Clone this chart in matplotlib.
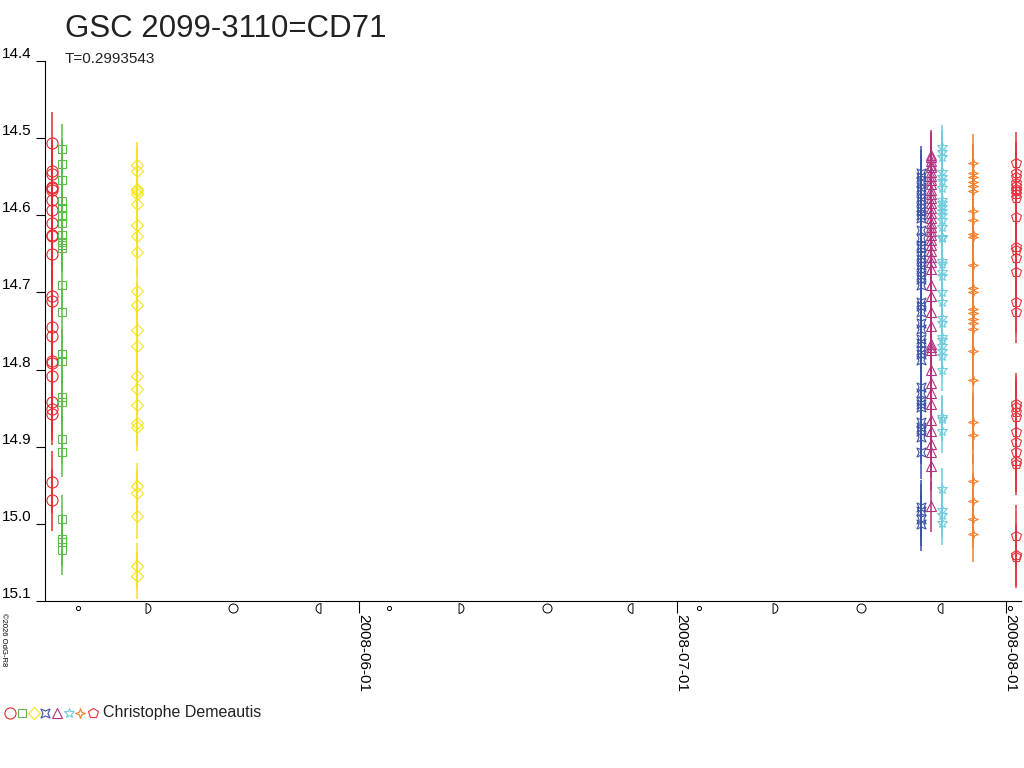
import numpy as np
import matplotlib
matplotlib.use('Agg')
import matplotlib.pyplot as plt
import matplotlib.dates as mdates
from matplotlib.path import Path
from matplotlib.lines import Line2D
from datetime import datetime

plt.rcParams['font.family'] = ['Liberation Sans', 'DejaVu Sans']

title = 'GSC 2099-3110=CD71'
subtitle = 'T=0.2993543'
observer = 'Christophe Demeautis'
credit = '©2026 OdG-R8'

# one observing night per series
night_dates = ['2008-05-03 00:45', '2008-05-04 00:45', '2008-05-11 01:00',
               '2008-07-23 23:00', '2008-07-24 22:20', '2008-07-25 22:20',
               '2008-07-28 21:50', '2008-08-01 21:50']

mag_red_circles = [14.506, 14.542, 14.546, 14.563, 14.565, 14.567, 14.580, 14.593,
                   14.610, 14.625, 14.627, 14.650, 14.705, 14.711, 14.745, 14.757,
                   14.789, 14.791, 14.808, 14.842, 14.851, 14.858, 14.946, 14.969]
mag_green = [14.514, 14.533, 14.554, 14.582, 14.591, 14.599, 14.601, 14.610,
             14.626, 14.634, 14.638, 14.642, 14.691, 14.726, 14.780, 14.789,
             14.836, 14.842, 14.890, 14.907, 14.994, 15.020, 15.023, 15.034]
mag_yellow = [14.535, 14.542, 14.566, 14.568, 14.572, 14.585, 14.613, 14.627,
              14.648, 14.698, 14.716, 14.749, 14.770, 14.808, 14.825, 14.846,
              14.869, 14.875, 14.951, 14.960, 14.990, 15.055, 15.067]
mag_blue = [14.545, 14.550, 14.557, 14.563, 14.569, 14.576, 14.582, 14.589,
            14.595, 14.599, 14.603, 14.619, 14.629, 14.638, 14.642, 14.651,
            14.657, 14.664, 14.670, 14.677, 14.683, 14.690, 14.713, 14.718,
            14.725, 14.739, 14.748, 14.761, 14.765, 14.774, 14.780, 14.787,
            14.823, 14.830, 14.841, 14.845, 14.849, 14.868, 14.874, 14.880,
            14.888, 14.907, 14.978, 14.983, 14.994, 15.000]
mag_purple = [14.522, 14.525, 14.529, 14.535, 14.538, 14.544, 14.549, 14.554,
              14.560, 14.567, 14.572, 14.577, 14.584, 14.590, 14.597, 14.603,
              14.610, 14.615, 14.620, 14.625, 14.632, 14.638, 14.646, 14.654,
              14.660, 14.670, 14.690, 14.705, 14.725, 14.744, 14.767, 14.771,
              14.775, 14.801, 14.817, 14.831, 14.844, 14.866, 14.880, 14.897,
              14.907, 14.925, 14.977]
mag_cyan = [14.511, 14.518, 14.524, 14.544, 14.550, 14.555, 14.564, 14.580,
            14.584, 14.589, 14.594, 14.599, 14.606, 14.615, 14.628, 14.630,
            14.659, 14.663, 14.674, 14.679, 14.699, 14.712, 14.733, 14.739,
            14.758, 14.762, 14.770, 14.776, 14.782, 14.800, 14.861, 14.864,
            14.880, 14.955, 14.982, 14.989, 14.999]
mag_orange = [14.532, 14.545, 14.550, 14.557, 14.562, 14.568, 14.595, 14.606,
              14.624, 14.628, 14.664, 14.694, 14.699, 14.722, 14.727, 14.735,
              14.740, 14.748, 14.776, 14.813, 14.868, 14.885, 14.945, 14.971,
              14.994, 15.013]
mag_red_pent = [14.532, 14.545, 14.551, 14.558, 14.562, 14.566, 14.569, 14.573,
                14.577, 14.602, 14.641, 14.645, 14.655, 14.674, 14.713, 14.725,
                14.845, 14.849, 14.855, 14.861, 14.881, 14.894, 14.907, 14.919,
                14.923, 15.016, 15.040, 15.043]

mag_errors = [0.04, 0.032, 0.03, 0.035, 0.033, 0.028, 0.037, 0.04]

moon_new = ['2008-05-05 12:18', '2008-06-03 19:23', '2008-07-03 02:19', '2008-08-01 10:13']
moon_first = ['2008-05-12 03:47', '2008-06-10 15:04', '2008-07-10 04:35']
moon_full = ['2008-05-20 02:11', '2008-06-18 17:30', '2008-07-18 07:59']
moon_last = ['2008-05-28 02:57', '2008-06-26 12:10', '2008-07-25 18:42']

tick_dates = ['2008-06-01', '2008-07-01', '2008-08-01']
x_range = ['2008-05-02 09:36', '2008-08-02 10:00']
y_ticks = [14.4, 14.5, 14.6, 14.7, 14.8, 14.9, 15.0, 15.1]


def to_num(s):
    if len(s) > 10:
        return mdates.date2num(datetime.strptime(s, '%Y-%m-%d %H:%M'))
    return mdates.date2num(datetime.strptime(s, '%Y-%m-%d'))


def closed(verts):
    verts = list(verts) + [verts[0]]
    return Path(verts, closed=True)


def half_moon(side):
    arc = Path.arc(-90, 90) if side == 'right' else Path.arc(90, 270)
    v = arc.vertices.copy()
    v[:, 0] -= 0.5 if side == 'right' else -0.5
    v = np.vstack([v, v[:1]])
    codes = list(arc.codes) + [Path.CLOSEPOLY]
    return Path(v, codes)


square_star = closed([(-1, -1), (0, -0.55), (1, -1), (0.55, 0), (1, 1), (0, 0.55),
                      (-1, 1), (-0.55, 0)])
four_star = closed([(0, 1), (0.25, 0.25), (1, 0), (0.25, -0.25), (0, -1),
                    (-0.25, -0.25), (-1, 0), (-0.25, 0.25)])

series = [mag_red_circles, mag_green, mag_yellow, mag_blue, mag_purple,
          mag_cyan, mag_orange, mag_red_pent]
colors = ['#e8282e', '#5fba4c', '#f2e41c', '#3c52a4', '#b2307e',
          '#72cbdc', '#f47f2c', '#e6323c']
markers = ['o', 's', 'D', square_star, '^', '*', four_star, 'p']
msizes = [8, 5.8, 6, 6.5, 7, 7.5, 7, 7.5]

fig = plt.figure(figsize=(10.24, 7.68), dpi=100)
ax = fig.add_axes([45 / 1024, 1 - 601 / 768, 976 / 1024, 540 / 768])

for d, mags, err, c, m, ms in zip(night_dates, series, mag_errors, colors, markers, msizes):
    x = np.full(len(mags), to_num(d))
    ax.errorbar(x, mags, yerr=err, fmt='none', ecolor=c, elinewidth=1.1)
    ax.plot(x, mags, linestyle='none', marker=m, markersize=ms,
            markerfacecolor='none', markeredgecolor=c, markeredgewidth=0.8)

ax.set_xlim(to_num(x_range[0]), to_num(x_range[1]))
ax.set_ylim(15.1, 14.4)

ax.spines['top'].set_visible(False)
ax.spines['right'].set_visible(False)
for s in ['left', 'bottom']:
    ax.spines[s].set_linewidth(0.8)

ax.set_yticks(y_ticks)
ax.set_yticklabels([f'{v:.1f}' for v in y_ticks])
ax.tick_params(axis='y', direction='out', length=6.5, width=0.8, pad=3, labelsize=11)
for lab in ax.get_yticklabels():
    lab.set_va('bottom')

ax.set_xticks([to_num(t) for t in tick_dates])
ax.set_xticklabels(tick_dates, rotation=270, rotation_mode='anchor', ha='left',
                   va='baseline', fontsize=11)
ax.tick_params(axis='x', direction='out', length=8.6, width=0.8, pad=0.5)

# moon phases along the date axis
moon_y = -0.013
trans = ax.get_xaxis_transform()
ax.plot([to_num(d) for d in moon_new], [moon_y] * len(moon_new), 'o', ms=3,
        mfc='none', mec='black', mew=0.7, transform=trans, clip_on=False)
ax.plot([to_num(d) for d in moon_first], [moon_y] * len(moon_first), linestyle='none',
        marker=half_moon('right'), ms=7, mfc='none', mec='black', mew=0.7,
        transform=trans, clip_on=False)
ax.plot([to_num(d) for d in moon_full], [moon_y] * len(moon_full), 'o', ms=6.5,
        mfc='none', mec='black', mew=0.7, transform=trans, clip_on=False)
ax.plot([to_num(d) for d in moon_last], [moon_y] * len(moon_last), linestyle='none',
        marker=half_moon('left'), ms=7, mfc='none', mec='black', mew=0.7,
        transform=trans, clip_on=False)

fig.text(65 / 1024, 1 - 37 / 768, title, fontsize=22.5, va='baseline', color='#222222')
fig.text(65 / 1024, 1 - 63 / 768, subtitle, fontsize=11, va='baseline', color='#222222')
fig.text(2 / 1024, 1 - 613 / 768, credit, fontsize=5.5, rotation=270,
         rotation_mode='anchor', ha='left', va='baseline')

# legend row at the bottom
leg_x = [9.5, 21.5, 33.5, 45, 57, 68.5, 80, 92.5]
for lx, c, m, ms in zip(leg_x, colors, markers, msizes):
    fig.add_artist(Line2D([lx / 1024], [1 - 713 / 768], transform=fig.transFigure,
                          linestyle='none', marker=m, markersize=ms,
                          markerfacecolor='none', markeredgecolor=c, markeredgewidth=0.8))
fig.text(103 / 1024, 1 - 713 / 768, observer, fontsize=11.5, va='center', color='#222222')

fig.savefig('out.png', dpi=100)
